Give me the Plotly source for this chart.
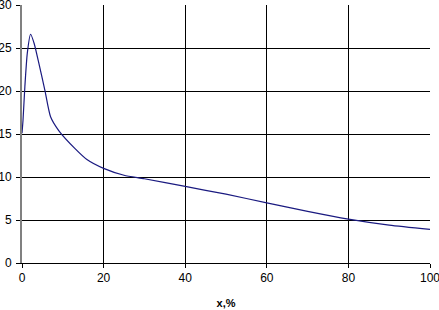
import plotly.graph_objects as go

x_vals = [0, 0.25, 0.7, 1.3, 2.1, 3, 4, 5.6, 7, 9, 13, 16, 20, 25, 30, 40, 50, 60, 70, 80, 90, 100]
y_vals = [15.1, 16.6, 20.5, 24.4, 26.6, 25.5, 23.5, 20.1, 17.0, 15.4, 13.3, 12.0, 11.0, 10.2, 9.8, 8.9, 8.0, 7.0, 6.0, 5.1, 4.4, 3.9]
x_ticks = [0, 20, 40, 60, 80, 100]
y_ticks = [0, 5, 10, 15, 20, 25, 30]

fig = go.Figure()
fig.add_trace(go.Scatter(x=x_vals, y=y_vals, mode="lines",
                         line=dict(color="#1a1a80", width=1.2, shape="spline", smoothing=0.6),
                         showlegend=False, hoverinfo="skip", cliponaxis=False))

fig.update_layout(
    width=439, height=310,
    margin=dict(l=22, r=9, t=5, b=47, autoexpand=False),
    paper_bgcolor="white", plot_bgcolor="white",
    font=dict(family="Liberation Sans, Arial, sans-serif", size=12, color="black"),
)
fig.update_xaxes(range=[0, 100.001], tickvals=x_ticks, ticktext=[str(v) for v in x_ticks],
                 showgrid=True, gridcolor="black", gridwidth=1, zeroline=False,
                 showline=True, linecolor="black", linewidth=1, automargin=False,
                 ticklabeloverflow="allow",
                 ticks="outside", ticklen=4, tickcolor="black",
                 title=dict(text="<b>x,%</b>", font=dict(size=11), standoff=14))
fig.update_yaxes(range=[0, 30.001], tickvals=y_ticks, ticktext=[str(v) for v in y_ticks],
                 showgrid=True, gridcolor="black", gridwidth=1, zeroline=False,
                 showline=True, linecolor="#808080", linewidth=2, automargin=False,
                 ticklabeloverflow="allow",
                 ticks="outside", ticklen=4, tickcolor="black", ticklabelstandoff=2)

fig.write_html("out.html", config={"displayModeBar": False},
               post_script="document.body.style.margin='0';document.body.style.overflow='hidden';")
